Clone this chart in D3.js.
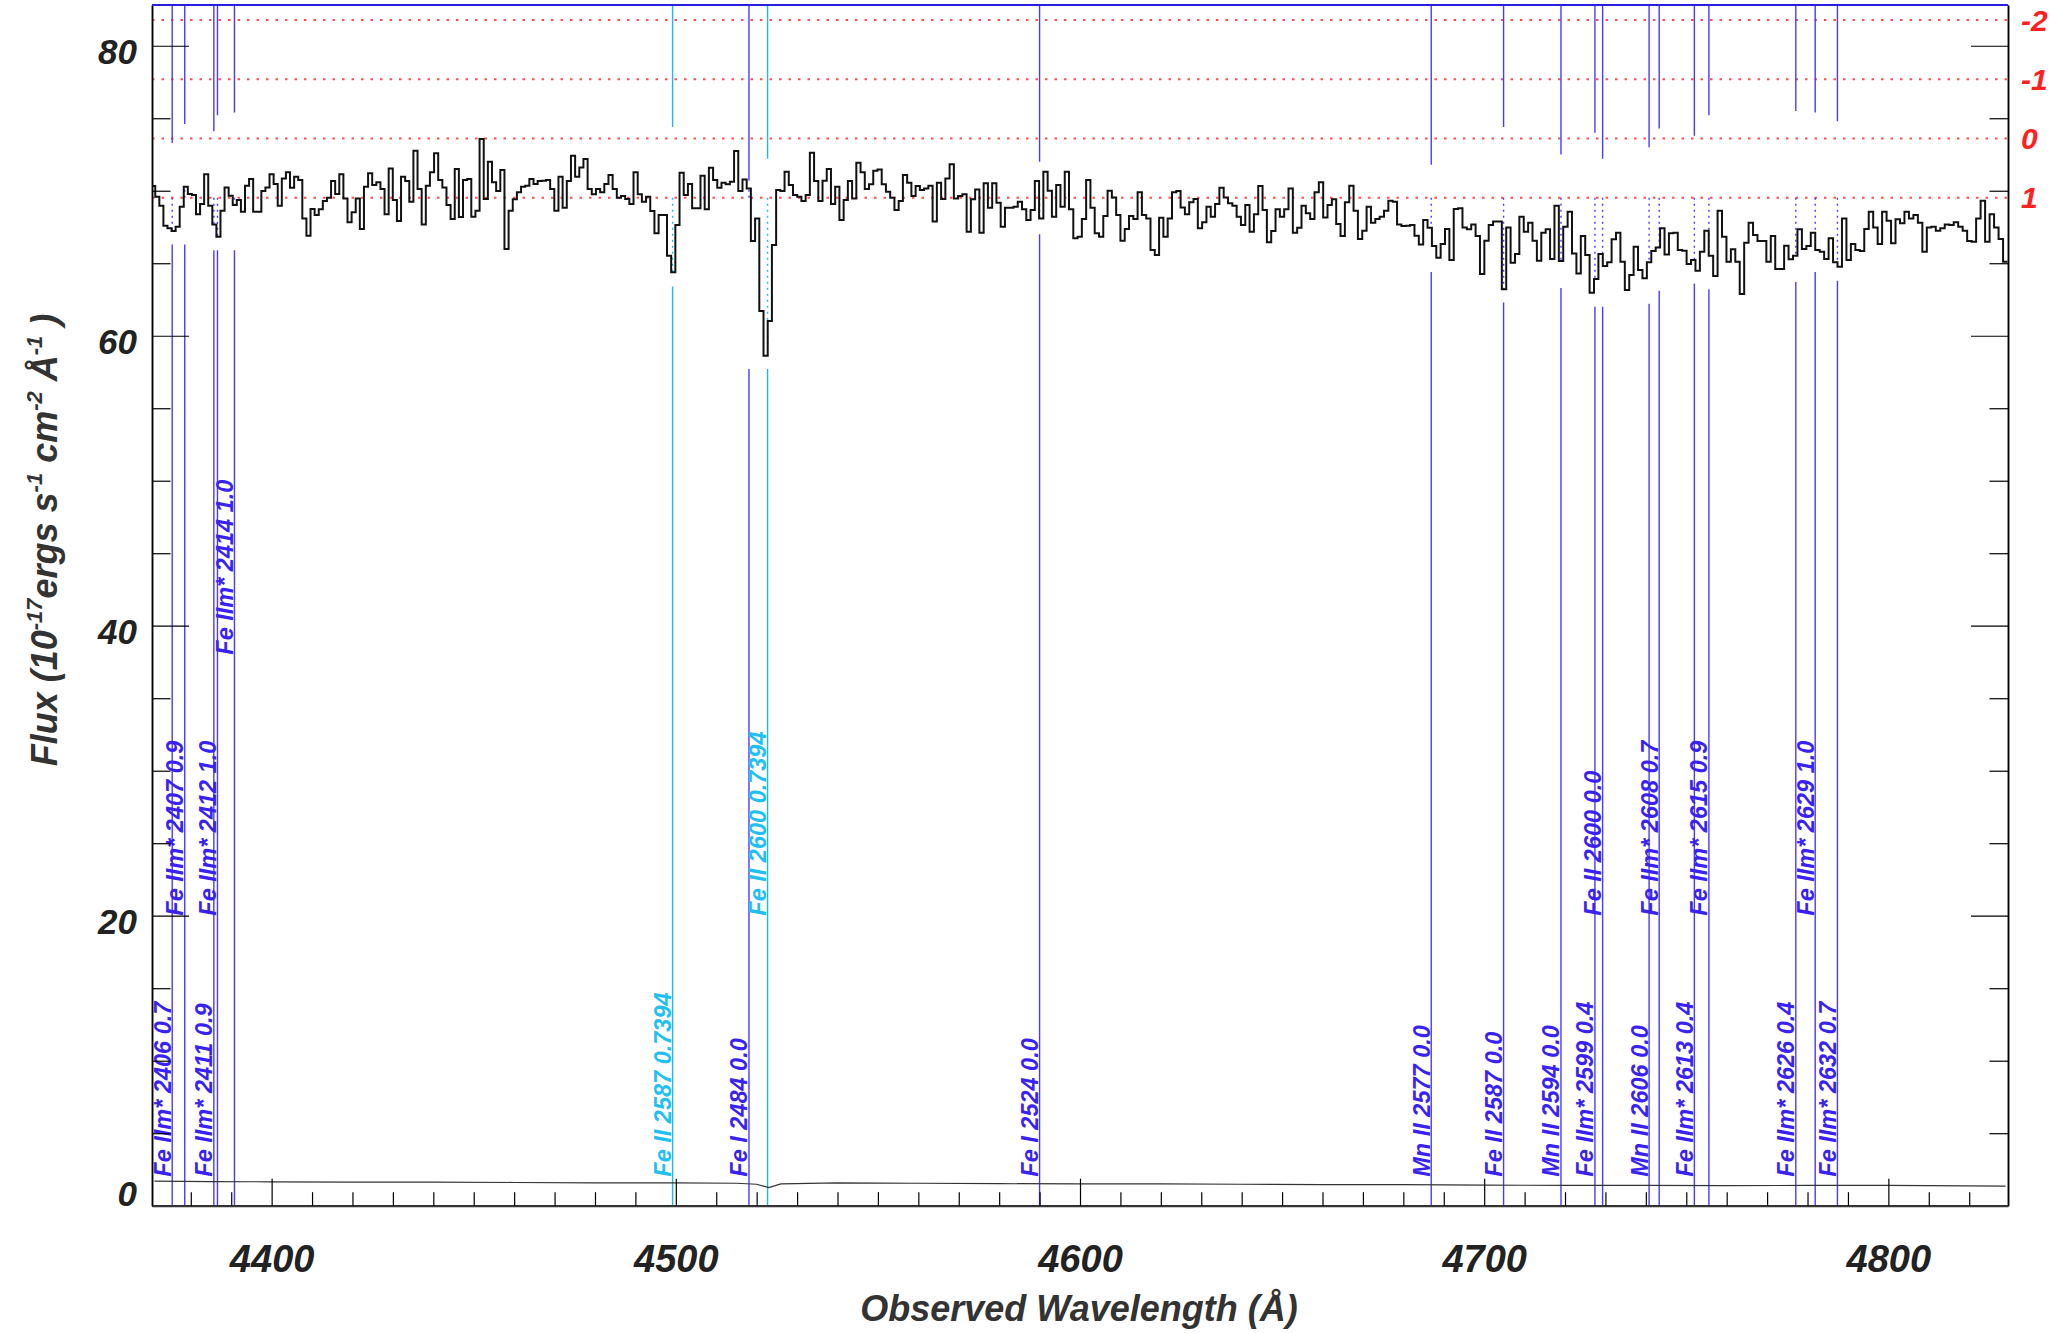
<!DOCTYPE html>
<html lang="en">
<head>
<meta charset="UTF-8">
<title>Spectrum</title>
<style>
  html, body { margin:0; padding:0; background:#fff; }
  svg text { font-family: "Liberation Sans", Arial, Helvetica, sans-serif; font-weight: bold; font-style: italic; }
</style>
</head>
<body>
<script src="https://cdn.jsdelivr.net/npm/d3@7"></script>
<script>
// SDSS-style log-lambda bins, flux in 1e-17 erg/s/cm2/A
var loglam0 = Math.log10(4370.2), dloglam = 1e-4;

var flux = [
  70.32, 69.59, 68.97, 67.59, 67.41, 67.22, 67.52, 68.90, 70.28, 69.77,
  69.70, 68.37, 69.08, 71.13, 68.97, 67.68, 66.83, 68.62, 70.23, 69.66,
  69.01, 69.36, 68.55, 70.35, 70.81, 68.55, 68.55, 69.98, 70.23, 71.13,
  70.46, 68.97, 70.85, 71.27, 70.21, 70.97, 70.74, 68.09, 66.90, 68.74,
  68.32, 68.72, 69.29, 69.52, 70.67, 69.77, 71.13, 69.47, 67.82, 68.51,
  69.47, 67.36, 70.28, 71.20, 70.39, 70.58, 70.12, 68.37, 71.54, 69.36,
  67.91, 70.97, 70.67, 69.24, 72.76, 70.12, 67.68, 70.35, 71.27, 72.58,
  70.74, 70.23, 69.01, 68.05, 71.50, 68.19, 70.74, 70.81, 68.21, 68.62,
  73.57, 69.43, 72.00, 70.58, 69.98, 71.43, 65.98, 68.62, 69.41, 69.89,
  70.28, 70.35, 70.81, 70.46, 70.67, 70.69, 70.74, 70.12, 68.62, 70.97,
  68.83, 70.67, 72.42, 70.97, 71.61, 72.19, 70.12, 69.75, 70.12, 69.89,
  70.46, 71.08, 70.12,
  69.52, 69.63, 69.43, 69.08, 71.27, 69.75, 69.24, 69.59, 68.60, 67.06,
  68.32, 68.32, 65.52, 64.37, 67.64, 71.24, 69.70, 70.46, 68.79, 68.79,
  71.04, 68.72, 71.59, 70.74, 70.21, 70.55, 70.44, 70.62, 72.74, 69.98,
  70.78, 70.16, 66.53, 68.09, 61.70, 58.62, 61.01, 66.26, 70.05, 69.98,
  71.31, 70.39, 69.70, 69.59, 69.29, 69.70, 72.62, 70.67, 69.29, 70.69,
  71.50, 69.08, 70.28, 67.98, 69.36, 70.67, 69.47, 71.93, 71.27, 70.12,
  70.44, 71.38, 71.47, 70.44, 69.93, 69.52, 68.67, 69.29, 71.08, 70.55,
  69.63, 70.32, 70.05, 70.16, 70.35, 67.87, 70.55, 69.43, 70.85, 71.82,
  69.47, 69.63, 69.75, 67.17, 69.41, 70.09, 67.11, 70.51, 68.83, 70.51,
  69.17, 67.52, 68.83, 68.83, 68.90, 69.24, 68.72, 67.98, 68.67, 70.67,
  68.09, 71.31, 70.00, 68.21, 70.39, 68.90, 71.31, 68.72, 66.72, 66.83,
  68.05,
  70.74, 68.83, 67.06, 66.83, 68.26, 70.00, 69.54, 68.32, 66.55, 67.36,
  68.26, 68.05, 69.89, 68.32, 68.09, 65.91, 65.57, 68.14, 66.83, 68.09,
  69.89, 69.98, 68.85, 68.37, 69.20, 69.43, 67.41, 67.82, 68.90, 68.21,
  69.08, 70.21, 69.54, 69.13, 68.97, 68.21, 67.64, 69.01, 67.17, 68.37,
  70.32, 68.67, 66.44, 67.22, 68.72, 68.21, 68.72, 70.16, 67.11, 67.45,
  68.97, 68.44, 68.05, 69.89, 70.58, 68.16, 69.01, 69.41, 67.70, 66.88,
  69.20, 70.35, 68.62, 66.67, 67.24, 68.90, 67.80, 68.05, 68.21, 68.62,
  69.31, 69.24, 67.68, 67.57, 67.59, 67.64, 66.90, 66.30, 67.98, 67.45,
  66.19, 65.38, 66.32, 67.36, 65.22, 68.74, 68.79, 67.47, 67.34, 67.68,
  66.88, 64.26, 66.55, 67.64, 67.87, 67.87, 63.20, 67.47, 65.04, 65.63,
  68.21, 67.17, 67.80, 66.55, 65.17, 67.11, 67.34,
  65.29, 68.97, 65.15, 67.52, 68.55, 65.68, 64.30, 66.88, 65.57, 62.97,
  63.91, 65.63, 64.81, 65.06, 66.65, 67.11, 65.11, 63.15, 64.19, 66.14,
  64.53, 63.96, 65.06, 65.84, 66.09, 67.41, 65.61, 67.06, 67.11, 65.91,
  65.86, 64.95, 65.22, 64.49, 65.80, 67.24, 65.52, 64.12, 68.62, 66.83,
  65.11, 65.96, 65.11, 62.88, 66.42, 67.80, 66.94, 66.53, 66.53, 65.11,
  66.88, 64.60, 64.60, 66.21, 65.27, 65.52, 67.34, 65.98, 66.19, 67.11,
  65.91, 65.80, 65.29, 66.72, 65.06, 64.76, 68.09, 65.22, 66.32, 65.91,
  65.84, 67.36, 68.55, 67.47, 66.32, 68.55, 67.93, 66.37, 68.03, 67.75,
  68.55, 68.09, 68.32, 67.80, 65.80, 67.47, 67.52, 67.24, 67.41, 67.68,
  67.64, 67.82, 67.52, 67.24, 66.53, 66.49, 68.09, 69.31, 66.49, 68.37,
  67.47, 66.67, 65.11
];

// error spectrum (read coarsely)
var errWave = [4371, 4385, 4400, 4420, 4440, 4460, 4480, 4500, 4515, 4520, 4523, 4526, 4540,
               4560, 4580, 4600, 4620, 4640, 4660, 4680, 4700, 4720, 4740, 4760, 4780, 4800, 4829];
var errFlux = [1.70, 1.66, 1.65, 1.62, 1.63, 1.60, 1.58, 1.58, 1.55, 1.48, 1.25, 1.50, 1.58,
               1.55, 1.52, 1.50, 1.50, 1.48, 1.45, 1.45, 1.42, 1.40, 1.40, 1.38, 1.40, 1.40, 1.35];

// absorption line markers
var lineWave = [4375.4, 4378.5, 4385.7, 4386.6, 4390.8, 4499.2, 4518.1, 4522.7, 4590.0,
                4686.9, 4704.8, 4719.0, 4727.4, 4729.3, 4740.8, 4743.3, 4752.0, 4755.6,
                4777.1, 4781.9, 4787.4];
var lineLabel = ["Fe IIm* 2406 0.7", "Fe IIm* 2407 0.9", "Fe IIm* 2411 0.9", "Fe IIm* 2412 1.0",
                 "Fe IIm* 2414 1.0", "Fe II 2587 0.7394", "Fe I 2484 0.0", "Fe II 2600 0.7394",
                 "Fe I 2524 0.0", "Mn II 2577 0.0", "Fe II 2587 0.0", "Mn II 2594 0.0",
                 "Fe IIm* 2599 0.4", "Fe II 2600 0.0", "Mn II 2606 0.0", "Fe IIm* 2608 0.7",
                 "Fe IIm* 2613 0.4", "Fe IIm* 2615 0.9", "Fe IIm* 2626 0.4", "Fe IIm* 2629 1.0",
                 "Fe IIm* 2632 0.7"];
var lineTier = [0, 1, 0, 1, 2, 0, 0, 1, 0, 0, 0, 0, 0, 1, 0, 1, 0, 1, 0, 1, 0];
var lineSys = ["b", "b", "b", "b", "b", "c", "b", "c", "b", "b", "b", "b", "b", "b", "b", "b", "b", "b", "b", "b", "b"];
var lineTop = [73.3, 74.6, 74.1, 75.2, 75.4, 74.4, 70.7, 72.2, 72.0, 71.8, 74.4, 72.5, 74.0, 72.2,
               73.0, 74.3, 73.8, 75.2, 75.5, 75.4, 74.8];
var lineBot = [66.3, 66.3, 65.9, 65.9, 65.9, 63.4, 57.7, 57.7, 67.0, 64.4, 62.3, 63.3, 62.0, 62.0,
               62.2, 63.1, 63.6, 63.2, 63.7, 64.4, 63.8];

var yTicks = [0, 20, 40, 60, 80];
var xTicks = [4400, 4500, 4600, 4700, 4800];
var sigTicks = [-2, -1, 0, 1];
var sigFlux = [81.77, 69.52];     // flux level of sigma -2 and +1
var contFlux = 69.52;             // dotted guides start here
var tierFlux = [2, 20, 38];

var W = 2053, H = 1333;
var x = d3.scaleLinear().domain([4370.4, 4829.6]).range([152, 2008]);
var y = d3.scaleLinear().domain([0, 82.81]).range([1205.7, 5]);
var sig = d3.scaleLinear().domain([-2, 1]).range([y(sigFlux[0]), y(sigFlux[1])]);
var col = { b: "#4a3aff", c: "#1cb8f0" };
var tcol = { b: "#3a22f2", c: "#22bff4" };

var svg = d3.select("body").append("svg")
  .attr("width", W).attr("height", H)
  .style("display", "block").style("background", "#fff");

svg.append("clipPath").attr("id", "plot")
  .append("rect").attr("x", 152).attr("y", 5).attr("width", 2008 - 152).attr("height", 1205.7 - 5);

// sigma guide lines
svg.append("g").selectAll("line").data(sigTicks).join("line")
  .attr("x1", x.range()[0]).attr("x2", x.range()[1])
  .attr("y1", d => sig(d)).attr("y2", d => sig(d))
  .attr("stroke", "#ff3030").attr("stroke-width", 2).attr("stroke-dasharray", "2.5,7")
  .attr("opacity", 0.85);

// bins
var edges = d3.range(flux.length + 1).map(i => Math.pow(10, loglam0 + i * dloglam));
function localFlux(w) {
  var i = Math.floor((Math.log10(w) - loglam0) / dloglam);
  return flux[Math.max(0, Math.min(flux.length - 1, i))];
}

// line markers
var mk = svg.append("g").attr("clip-path", "url(#plot)");
lineWave.forEach(function(w, i) {
  var c = col[lineSys[i]];
  var xx = x(w);
  mk.append("line").attr("x1", xx).attr("x2", xx)
    .attr("y1", y.range()[1]).attr("y2", y(lineTop[i]))
    .attr("stroke", c).attr("stroke-width", 1.4);
  mk.append("line").attr("x1", xx).attr("x2", xx)
    .attr("y1", y(contFlux)).attr("y2", y(localFlux(w)))
    .attr("stroke", c).attr("stroke-width", 1.4).attr("stroke-dasharray", "2,4");
  mk.append("line").attr("x1", xx).attr("x2", xx)
    .attr("y1", y(lineBot[i])).attr("y2", y(0))
    .attr("stroke", c).attr("stroke-width", 1.4);
});

// spectrum
var pts = flux.map((f, i) => [edges[i], f]);
pts.push([edges[flux.length], flux[flux.length - 1]]);
svg.append("path").datum(pts)
  .attr("clip-path", "url(#plot)")
  .attr("d", d3.line().x(d => x(d[0])).y(d => y(d[1])).curve(d3.curveStepAfter))
  .attr("fill", "none").attr("stroke", "#111").attr("stroke-width", 2);

// error spectrum
svg.append("path").datum(errWave.map((w, i) => [w, errFlux[i]]))
  .attr("clip-path", "url(#plot)")
  .attr("d", d3.line().x(d => x(d[0])).y(d => y(d[1])))
  .attr("fill", "none").attr("stroke", "#333").attr("stroke-width", 1.2);

// line labels
svg.append("g").selectAll("text").data(lineWave).join("text")
  .attr("transform", (w, i) => "translate(" + (x(w) - 1.5) + "," + y(tierFlux[lineTier[i]]) + ") rotate(-90)")
  .attr("font-size", 23.5)
  .attr("fill", (w, i) => tcol[lineSys[i]])
  .text((w, i) => lineLabel[i]);

// axes
function styleAxis(g) {
  g.select(".domain").attr("stroke", "#000").attr("stroke-width", 1.5);
  g.selectAll(".tick line").attr("stroke", "#000").attr("stroke-width", 1.2);
}

var yMinor = d3.range(5, 85, 5).filter(d => d % 20 !== 0);
var xMinor = d3.range(4380, 4830, 10).filter(d => d % 100 !== 0);

var gy = svg.append("g").attr("transform", "translate(152,0)")
  .call(d3.axisLeft(y).tickValues(yTicks).tickSize(-37).tickSizeOuter(0).tickPadding(15).tickFormat(d3.format("d")))
  .call(styleAxis);
gy.selectAll("text").attr("font-size", 35).attr("fill", "#222").attr("dy", null)
  .attr("y", d => Math.min(17.5, y(0) - y(d)));
svg.append("g").attr("transform", "translate(152,0)")
  .call(d3.axisLeft(y).tickValues(yMinor).tickSize(-18.5).tickSizeOuter(0).tickFormat(""))
  .call(styleAxis);

svg.append("g").attr("transform", "translate(2008,0)")
  .call(d3.axisRight(y).tickValues(yTicks).tickSize(-37).tickSizeOuter(0).tickFormat(""))
  .call(styleAxis);
svg.append("g").attr("transform", "translate(2008,0)")
  .call(d3.axisRight(y).tickValues(yMinor).tickSize(-18.5).tickSizeOuter(0).tickFormat(""))
  .call(styleAxis);

var gx = svg.append("g").attr("transform", "translate(0," + y(0) + ")")
  .call(d3.axisBottom(x).tickValues(xTicks).tickSize(-27).tickSizeOuter(0).tickFormat(d3.format("d")))
  .call(styleAxis);
gx.select(".domain").attr("stroke-width", 2.2).attr("stroke", "#333");
gx.selectAll("text").attr("font-size", 38).attr("fill", "#222").attr("dy", null).attr("y", 66);
svg.append("g").attr("transform", "translate(0," + y(0) + ")")
  .call(d3.axisBottom(x).tickValues(xMinor).tickSize(-13.5).tickSizeOuter(0).tickFormat(""))
  .call(styleAxis)
  .select(".domain").remove();

// top border
svg.append("line").attr("x1", 152).attr("x2", 2008).attr("y1", y.range()[1]).attr("y2", y.range()[1])
  .attr("stroke", "#2a1fe0").attr("stroke-width", 2);

// sigma labels on the right
svg.append("g").selectAll("text").data(sigTicks).join("text")
  .attr("x", 2021).attr("y", d => sig(d)).attr("dy", "0.36em")
  .attr("font-size", 30).attr("fill", "#ff2020")
  .text(d => d);

// axis titles
svg.append("text").attr("x", 1079).attr("y", 1321).attr("text-anchor", "middle")
  .attr("font-size", 36).attr("fill", "#333")
  .text("Observed Wavelength (\u00C5)");

var yt = svg.append("text").attr("transform", "translate(57,540) rotate(-90)")
  .attr("text-anchor", "middle").attr("font-size", 36).attr("fill", "#333");
yt.append("tspan").text("Flux (10");
yt.append("tspan").attr("dy", -15).attr("font-size", 22).text("-17");
yt.append("tspan").attr("dy", 15).text("ergs s");
yt.append("tspan").attr("dy", -15).attr("font-size", 22).text("-1");
yt.append("tspan").attr("dy", 15).text(" cm");
yt.append("tspan").attr("dy", -15).attr("font-size", 22).text("-2");
yt.append("tspan").attr("dy", 15).text(" \u00C5");
yt.append("tspan").attr("dy", -15).attr("font-size", 22).text("-1");
yt.append("tspan").attr("dy", 15).text(" )");
</script>
</body>
</html>
